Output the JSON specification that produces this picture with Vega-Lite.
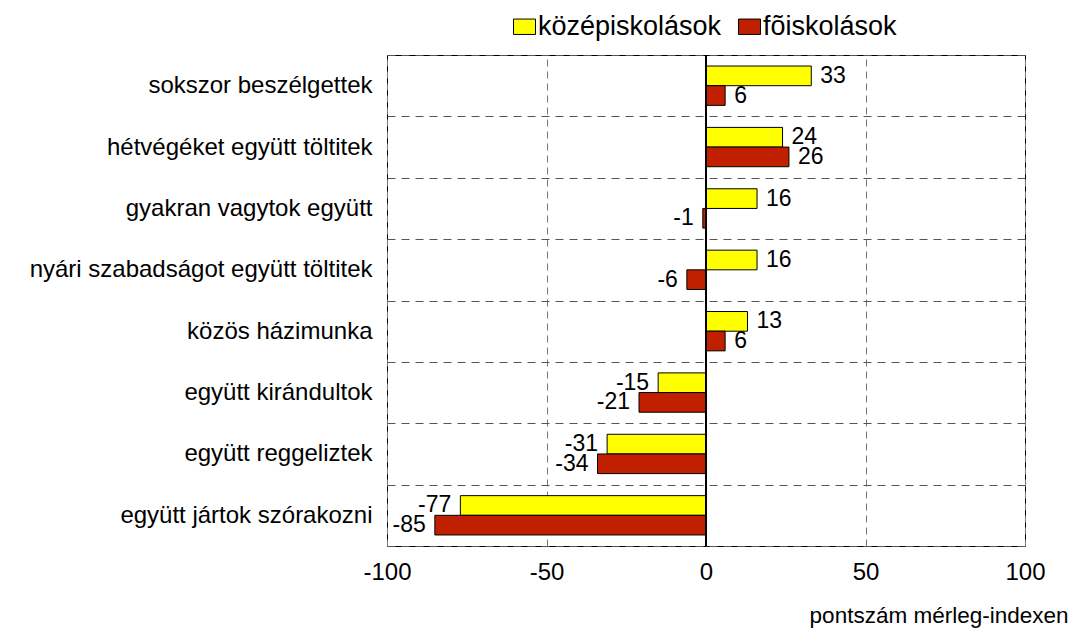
{
  "$schema": "https://vega.github.io/schema/vega-lite/v6.json",
  "width": 638,
  "height": 491,
  "autosize": {"type": "none"},
  "padding": {"left": 387, "top": 55, "right": 47, "bottom": 85},
  "background": "white",
  "config": {
    "font": "Liberation Sans",
    "locale": {"number": {"decimal": ".", "thousands": ",", "grouping": [3], "currency": ["$", ""], "minus": "-"}},
    "view": {"stroke": "black", "strokeWidth": 1},
    "axis": {"labelFont": "Liberation Sans", "titleFont": "Liberation Sans", "labelColor": "black", "titleColor": "black"}
  },
  "data": {
    "values": [
      {"cat": "sokszor beszélgettek", "group": "középiskolások", "value": 33},
      {"cat": "sokszor beszélgettek", "group": "fõiskolások", "value": 6},
      {"cat": "hétvégéket együtt töltitek", "group": "középiskolások", "value": 24},
      {"cat": "hétvégéket együtt töltitek", "group": "fõiskolások", "value": 26},
      {"cat": "gyakran vagytok együtt", "group": "középiskolások", "value": 16},
      {"cat": "gyakran vagytok együtt", "group": "fõiskolások", "value": -1},
      {"cat": "nyári szabadságot együtt töltitek", "group": "középiskolások", "value": 16},
      {"cat": "nyári szabadságot együtt töltitek", "group": "fõiskolások", "value": -6},
      {"cat": "közös házimunka", "group": "középiskolások", "value": 13},
      {"cat": "közös házimunka", "group": "fõiskolások", "value": 6},
      {"cat": "együtt kirándultok", "group": "középiskolások", "value": -15},
      {"cat": "együtt kirándultok", "group": "fõiskolások", "value": -21},
      {"cat": "együtt reggeliztek", "group": "középiskolások", "value": -31},
      {"cat": "együtt reggeliztek", "group": "fõiskolások", "value": -34},
      {"cat": "együtt jártok szórakozni", "group": "középiskolások", "value": -77},
      {"cat": "együtt jártok szórakozni", "group": "fõiskolások", "value": -85}
    ]
  },
  "encoding": {
    "y": {
      "field": "cat",
      "type": "nominal",
      "sort": null,
      "scale": {"paddingInner": 0, "paddingOuter": 0},
      "axis": {
        "title": null,
        "domain": false,
        "ticks": false,
        "labelFontSize": 24,
        "labelLimit": 0,
        "labelPadding": 15,
        "grid": true,
        "tickBand": "extent",
        "gridDash": [8, 6],
        "gridColor": "#555555",
        "gridWidth": 1
      }
    },
    "yOffset": {
      "field": "group",
      "type": "nominal",
      "sort": ["középiskolások", "fõiskolások"],
      "scale": {"paddingInner": 0, "paddingOuter": 0.56}
    }
  },
  "layer": [
    {
      "mark": {"type": "bar", "stroke": "black", "strokeWidth": 1},
      "encoding": {
        "x": {
          "field": "value",
          "type": "quantitative",
          "scale": {"domain": [-100, 100], "nice": false, "zero": false},
          "axis": {
            "values": [-100, -50, 0, 50, 100],
            "labelExpr": "'' + datum.value",
            "title": "pontszám mérleg-indexen",
            "titleFontSize": 22.5,
            "titleFontWeight": "normal",
            "titleAnchor": "end",
            "titleAlign": "right",
            "titleBaseline": "alphabetic",
            "titleX": 681,
            "titleY": 76,
            "labelFontSize": 24,
            "labelPadding": 14,
            "ticks": false,
            "domain": false,
            "grid": true,
            "gridDash": [7, 5],
            "gridColor": "#777777",
            "labelFlush": false
          }
        },
        "fill": {
          "field": "group",
          "type": "nominal",
          "sort": ["középiskolások", "fõiskolások"],
          "scale": {"domain": ["középiskolások", "fõiskolások"], "range": ["#FFFF00", "#C02000"]},
          "legend": {
            "title": null,
            "orient": "none",
            "direction": "horizontal",
            "legendX": 124,
            "legendY": -42,
            "labelFontSize": 27,
            "labelLimit": 0,
            "labelColor": "black",
            "labelFont": "Liberation Sans",
            "labelOffset": 0,
            "columnPadding": 14,
            "symbolType": "M-1,-0.7H1V0.7H-1Z",
            "symbolSize": 484,
            "symbolStrokeColor": "black",
            "symbolStrokeWidth": 1
          }
        }
      }
    },
    {
      "transform": [{"filter": "datum.value >= 0"}],
      "mark": {"type": "text", "align": "left", "baseline": "middle", "dx": 9, "fontSize": 23, "color": "black"},
      "encoding": {
        "x": {"field": "value", "type": "quantitative"},
        "text": {"field": "value", "type": "nominal"}
      }
    },
    {
      "transform": [{"filter": "datum.value < 0"}],
      "mark": {"type": "text", "align": "right", "baseline": "middle", "dx": -9, "fontSize": 23, "color": "black"},
      "encoding": {
        "x": {"field": "value", "type": "quantitative"},
        "text": {"field": "value", "type": "nominal"}
      }
    },
    {
      "mark": {"type": "rule", "color": "black", "strokeWidth": 1},
      "encoding": {"x": {"datum": 0}, "y": {"value": 0}, "y2": {"value": 491}, "yOffset": null}
    }
  ]
}
